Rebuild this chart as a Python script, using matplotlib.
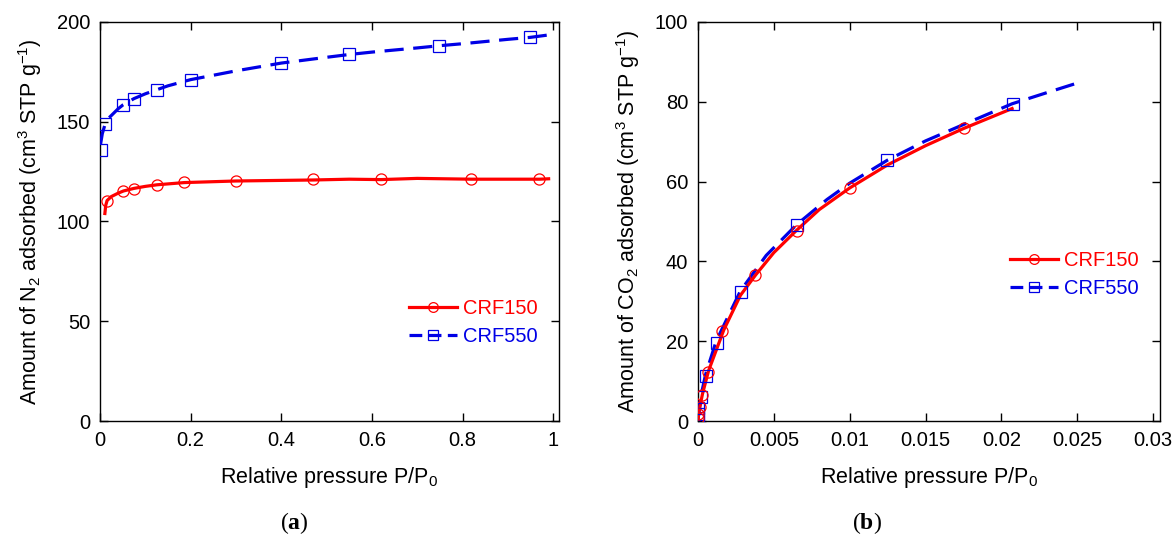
import matplotlib
matplotlib.use("Agg")
import matplotlib.pyplot as plt
from matplotlib.lines import Line2D
from matplotlib.ticker import FuncFormatter

plt.rcParams['font.family'] = ['Liberation Sans', 'DejaVu Sans']
plt.rcParams['mathtext.fontset'] = 'custom'
plt.rcParams['mathtext.rm'] = 'Liberation Sans'
plt.rcParams['mathtext.it'] = 'Liberation Sans:italic'
plt.rcParams['mathtext.bf'] = 'Liberation Serif:bold'

# ---------------- Data: panel (a) N2 ----------------
n2_150_mx = [0.0148, 0.0518, 0.0748, 0.126, 0.186, 0.301, 0.47, 0.619, 0.818, 0.968]
n2_150_my = [110.2, 115.1, 116.4, 118.5, 119.6, 120.5, 121.1, 121.3, 121.3, 121.3]
n2_150_lx = [0.0107, 0.0125, 0.0156, 0.025, 0.04, 0.0518, 0.075, 0.1, 0.126, 0.186,
             0.3, 0.47, 0.55, 0.62, 0.7, 0.82, 0.97, 0.99]
n2_150_ly = [104, 108, 110.5, 112.5, 114.2, 115.3, 116.6, 117.6, 118.4, 119.5,
             120.3, 120.8, 121.2, 121.0, 121.6, 121.2, 121.2, 121.4]

n2_550_mx = [0.002, 0.0115, 0.051, 0.075, 0.126, 0.2, 0.4, 0.55, 0.749, 0.95]
n2_550_my = [136.0, 148.8, 158.6, 161.6, 166.1, 171.1, 179.4, 183.7, 188.1, 192.3]
n2_550_lx = [0.001, 0.005, 0.0115, 0.02, 0.04, 0.051, 0.075, 0.1, 0.126, 0.15, 0.2,
             0.3, 0.4, 0.5, 0.55, 0.6, 0.7, 0.749, 0.8, 0.9, 0.95, 0.99]
n2_550_ly = [138.5, 144, 149, 152, 156.5, 158.5, 161.6, 164, 166.1, 168, 171.1,
             175.5, 179.4, 182.3, 183.7, 184.9, 187, 188.1, 189.1, 191.3, 192.3, 193.5]

# ---------------- Data: panel (b) CO2 ----------------
co2_150_mx = [0.0, 0.0, 0.00013, 0.00028, 0.00068, 0.0016, 0.00377, 0.00654, 0.01004, 0.01754]
co2_150_my = [0.7, 1.7, 3.4, 6.5, 12.2, 22.5, 36.6, 47.6, 58.3, 73.4]
co2_150_lx = [0.0, 0.0001, 0.0003, 0.0007, 0.0017, 0.0028, 0.0038, 0.005, 0.0065,
              0.008, 0.01, 0.0125, 0.015, 0.0175, 0.0207]
co2_150_ly = [0.3, 3, 6.8, 12.6, 22.8, 31.5, 36.6, 42.2, 47.8, 53, 58.4, 64.2, 69,
              73.3, 78.3]

co2_550_mx = [0.0, 0.0, 0.00002, 0.0002, 0.00053, 0.00123, 0.00286, 0.00654, 0.01246, 0.02075]
co2_550_my = [0.7, 1.7, 3.2, 6.1, 11.3, 19.6, 32.4, 49.0, 65.3, 79.4]
co2_550_lx = [0.0, 0.0001, 0.0002, 0.0005, 0.0012, 0.0028, 0.0045, 0.0065, 0.0085,
              0.01, 0.0125, 0.015, 0.0175, 0.0207, 0.023, 0.025]
co2_550_ly = [0.5, 3.2, 6.3, 11.6, 20, 32.6, 41.5, 49.2, 55.5, 59.6, 65.4, 70.2,
              74.3, 79.5, 82.3, 84.7]

labels = ['CRF150', 'CRF550']
a_xticks = [0, 0.2, 0.4, 0.6, 0.8, 1]
a_yticks = [0, 50, 100, 150, 200]
b_xticks = [0, 0.005, 0.01, 0.015, 0.02, 0.025, 0.03]
b_yticks = [0, 20, 40, 60, 80, 100]

RED = '#ff0000'
BLUE = '#0000e6'
LW = 2.3
DASH = (6, 3)

fig = plt.figure(figsize=(11.74, 5.44), dpi=100)
axA = fig.add_axes([0.0852, 0.2261, 0.3906, 0.7335])
axB = fig.add_axes([0.5945, 0.2261, 0.3935, 0.7335])

fmt = FuncFormatter(lambda v, p: '%g' % v)


def draw(ax, l150x, l150y, m150x, m150y, l550x, l550y, m550x, m550y):
    ax.plot(l550x, l550y, color=BLUE, lw=LW, dashes=DASH, zorder=3)
    ax.plot(m550x, m550y, ls='none', marker='s', ms=8, mfc='none', mec=BLUE,
            mew=0.9, zorder=4)
    ax.plot(l150x, l150y, color=RED, lw=LW, zorder=3)
    ax.plot(m150x, m150y, ls='none', marker='o', ms=8, mfc='none', mec=RED,
            mew=0.9, zorder=4)


def style(ax, xticks, yticks, xlim, ylim):
    ax.set_xlim(*xlim)
    ax.set_ylim(*ylim)
    ax.set_xticks(xticks)
    ax.set_yticks(yticks)
    ax.xaxis.set_major_formatter(fmt)
    ax.yaxis.set_major_formatter(fmt)
    ax.tick_params(direction='in', length=6, width=1.0, top=True, right=True,
                   labelsize=14.5, pad=7, colors='black')
    for s in ax.spines.values():
        s.set_linewidth(1.0)
    ax.set_xlabel('Relative pressure P/P$_0$', fontsize=15.5, labelpad=11)


def legend(ax, anchor, spacing):
    h1 = Line2D([], [], color=RED, lw=LW, marker='o', ms=7, mfc='none', mec=RED, mew=0.9)
    h2 = Line2D([], [], color=BLUE, lw=LW, dashes=(4, 2), marker='s', ms=7, mfc='none',
                mec=BLUE, mew=0.9)
    lg = ax.legend([h1, h2], labels, loc='center right', bbox_to_anchor=anchor,
                   frameon=False, fontsize=14.5, handlelength=2.4, handletextpad=0.3,
                   labelspacing=spacing, borderpad=0, borderaxespad=0)
    for t, c in zip(lg.get_texts(), [RED, BLUE]):
        t.set_color(c)


draw(axA, n2_150_lx, n2_150_ly, n2_150_mx, n2_150_my,
     n2_550_lx, n2_550_ly, n2_550_mx, n2_550_my)
style(axA, a_xticks, a_yticks, (0, 1.012), (0, 200))
axA.set_ylabel('Amount of N$_2$ adsorbed (cm$^3$ STP g$^{-1}$)', fontsize=15.5, labelpad=9)
legend(axA, (0.955, 0.247), 0.45)

draw(axB, co2_150_lx, co2_150_ly, co2_150_mx, co2_150_my,
     co2_550_lx, co2_550_ly, co2_550_mx, co2_550_my)
style(axB, b_xticks, b_yticks, (0, 0.03044), (0, 100))
axB.set_ylabel('Amount of CO$_2$ adsorbed (cm$^3$ STP g$^{-1}$)', fontsize=15.5, labelpad=9)
legend(axB, (0.955, 0.368), 0.45)

fig.text(294 / 1174, 1 - 523 / 544, r'($\mathbf{a}$)', ha='center', va='center',
         fontsize=17, family='Liberation Serif')
fig.text(867 / 1174, 1 - 523 / 544, r'($\mathbf{b}$)', ha='center', va='center',
         fontsize=17, family='Liberation Serif')

fig.savefig('out.png', dpi=100)
